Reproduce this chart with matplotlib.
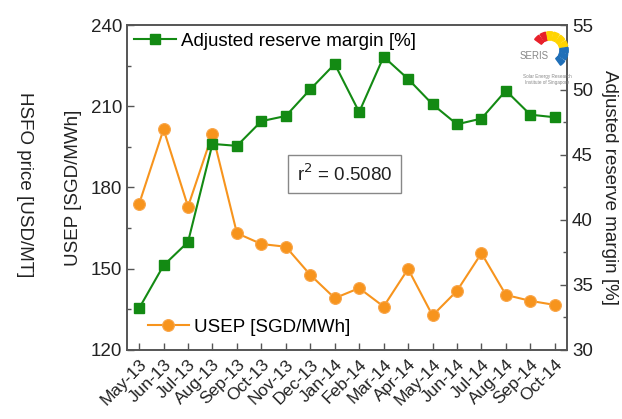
import matplotlib.pyplot as plt
from matplotlib.patches import Wedge
from matplotlib.ticker import MultipleLocator

plt.rcParams["font.family"] = ["Liberation Sans", "DejaVu Sans"]

months = [
    "May-13", "Jun-13", "Jul-13", "Aug-13", "Sep-13", "Oct-13", "Nov-13",
    "Dec-13", "Jan-14", "Feb-14", "Mar-14", "Apr-14", "May-14", "Jun-14",
    "Jul-14", "Aug-14", "Sep-14", "Oct-14",
]
usep = [
    173.9, 201.5, 172.9, 199.8, 163.1, 159.1, 158.1, 147.7, 139.1,
    142.8, 136.0, 149.9, 132.7, 141.8, 155.7, 140.3, 138.1, 136.6,
]
reserve_margin = [
    33.2, 36.5, 38.3, 45.85, 45.7, 47.6, 48.0, 50.05, 52.0,
    48.3, 52.56, 50.85, 48.9, 47.36, 47.8, 49.95, 48.1, 47.9,
]
r_squared = 0.5080

GREEN = "#138a13"
ORANGE = "#f7941d"
SPINE = "#555555"

fig = plt.figure(figsize=(6.22, 4.19), dpi=100)
ax1 = fig.add_axes([0.204, 0.165, 0.7076, 0.7753])
ax2 = ax1.twinx()

x = list(range(len(months)))

(l_usep,) = ax1.plot(x, usep, color=ORANGE, lw=1.5, marker="o", ms=8.5,
                     mec="#f9a64a", mew=0.8, label="USEP [SGD/MWh]")
(l_rm,) = ax2.plot(x, reserve_margin, color=GREEN, lw=1.5, marker="s", ms=7,
                   mec=GREEN, label="Adjusted reserve margin [%]")

ax1.set_xlim(-0.5, len(months) - 0.5)
ax1.set_ylim(120, 240)
ax2.set_ylim(30, 55)
ax1.yaxis.set_major_locator(MultipleLocator(30))
ax1.yaxis.set_minor_locator(MultipleLocator(15))
ax2.yaxis.set_major_locator(MultipleLocator(5))
ax2.yaxis.set_minor_locator(MultipleLocator(2.5))
ax1.set_xticks(x)
ax1.set_xticklabels(months, rotation=45, ha="right", rotation_mode="anchor")

for ax in (ax1, ax2):
    for s in ax.spines.values():
        s.set_color(SPINE)
        s.set_linewidth(1.2)
    ax.tick_params(which="both", direction="in", color=SPINE,
                   labelsize=13.5, labelcolor="#222222")
    ax.tick_params(which="major", length=5, width=1)
    ax.tick_params(which="minor", length=3, width=1)
ax1.tick_params(axis="x", labelsize=12.5, pad=5)

ax1.set_ylabel("USEP [SGD/MWh]", fontsize=13.5, color="#222222", labelpad=6)
fig.text(0.04, 0.56, "HSFO price [USD/MT]", rotation=-90, fontsize=13.5,
         color="#222222", ha="center", va="center")
ax2.set_ylabel("Adjusted reserve margin [%]", rotation=-90, fontsize=13.5,
               color="#222222", labelpad=18)

leg1 = ax2.legend(handles=[l_rm], loc="upper left", frameon=False,
                  fontsize=13.5, handlelength=2.2, handletextpad=0.3,
                  borderaxespad=0.0, bbox_to_anchor=(0.0, 1.0))
leg2 = ax2.legend(handles=[l_usep], loc="lower left", frameon=False,
                  fontsize=13.5, handlelength=2.2, handletextpad=0.3,
                  borderaxespad=0.0, bbox_to_anchor=(0.03, 0.02))
ax2.add_artist(leg1)

ax1.text(8.4, 185, f"r$^2$ = {r_squared:.4f}", fontsize=13.5, ha="center",
         va="center", color="#222222",
         bbox=dict(boxstyle="square,pad=0.45", fc="white", ec="#888888", lw=1))

# SERIS logo (approximation)
logo = fig.add_axes([0.845, 0.82, 0.07, 0.12])
logo.set_xlim(-1.3, 1.05)
logo.set_ylim(-1.05, 1.05)
logo.set_aspect("equal")
logo.axis("off")
wedge_cols = ["#e8202a", "#e8202a", "#ffd400", "#ffd400", "#ffd400",
              "#ffd400", "#1f6fb8", "#1f6fb8", "#1f6fb8"]
angles = [135, 112, 90, 68, 45, 22, 0, -22, -45]
for a, c in zip(angles, wedge_cols):
    logo.add_patch(Wedge((0.0, 0.0), 1.0, a - 9, a + 9, width=0.45, color=c))
fig.text(0.882, 0.86, "SERIS", fontsize=7, color="#888888", ha="right")
fig.text(0.88, 0.81, "Solar Energy Research\nInstitute of Singapore",
         fontsize=3.3, color="#888888", ha="center", va="center",
         linespacing=1.1)

fig.savefig("out.png", dpi=100)
